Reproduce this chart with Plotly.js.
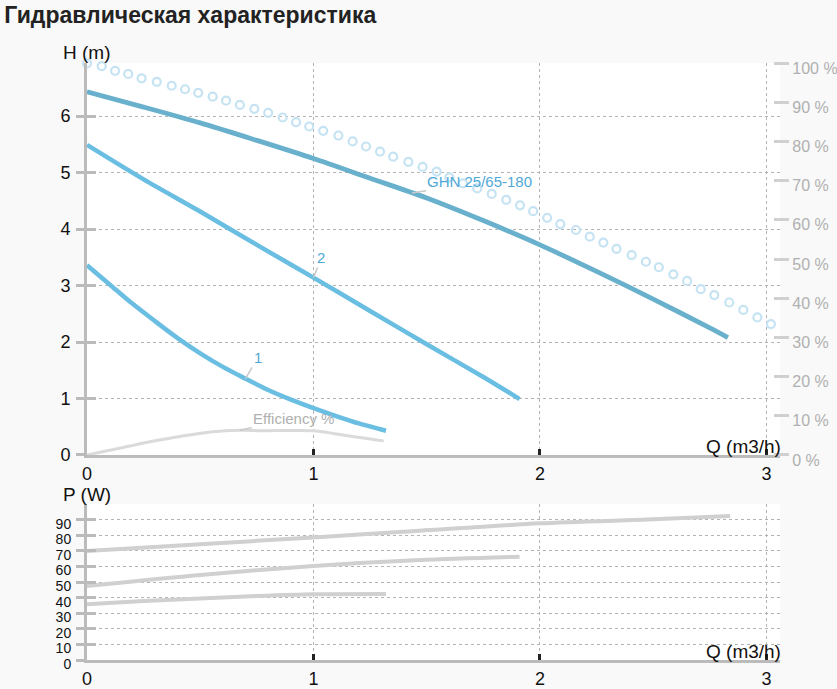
<!DOCTYPE html>
<html>
<head>
<meta charset="utf-8">
<script src="https://cdn.plot.ly/plotly-3.0.1.min.js"></script>
<style>
  html, body { margin: 0; padding: 0; background: #f9f9f9; }
  #chart { width: 837px; height: 689px; }
</style>
</head>
<body>
<div id="chart"></div>
<script>
"use strict";

// pump curve GHN 25/65-180 (max speed), H in m
let qMax = [0, 0.25, 0.5, 0.75, 1.0, 1.25, 1.5, 1.75, 2.0, 2.25, 2.5, 2.75, 2.83];
let hMax = [6.43, 6.16, 5.88, 5.57, 5.25, 4.90, 4.55, 4.15, 3.72, 3.25, 2.76, 2.25, 2.08];

// speed 2
let q2 = [0, 0.25, 0.5, 0.75, 1.0, 1.25, 1.5, 1.75, 1.91];
let h2 = [5.49, 4.88, 4.31, 3.72, 3.14, 2.55, 1.96, 1.38, 0.99];

// speed 1
let q1 = [0, 0.1, 0.2, 0.3, 0.4, 0.5, 0.6, 0.7, 0.8, 0.9, 1.0, 1.1, 1.2, 1.32];
let h1 = [3.36, 3.02, 2.68, 2.37, 2.07, 1.80, 1.56, 1.35, 1.15, 0.98, 0.83, 0.69, 0.56, 0.43];

// efficiency, %
let qEff = [0, 0.19, 0.32, 0.556, 0.675, 0.78, 1.0, 1.088, 1.15, 1.31];
let eff = [0, 2.3, 3.8, 5.9, 6.3, 6.2, 6.2, 5.5, 4.9, 3.6];

// circle curve on the % axis
let qDots = [0, 0.065, 0.124, 0.182, 0.241, 0.308, 0.374, 0.433, 0.491, 0.555,
    0.614, 0.675, 0.739, 0.8, 0.864, 0.923, 0.981, 1.043, 1.11, 1.173,
    1.232, 1.294, 1.352, 1.419, 1.482, 1.544, 1.6, 1.66, 1.723, 1.787,
    1.851, 1.912, 1.97, 2.032, 2.09, 2.159, 2.22, 2.28, 2.338, 2.405,
    2.468, 2.525, 2.589, 2.65, 2.71, 2.77, 2.836, 2.898, 2.96, 3.02];
let pctDots = [99.9, 99.2, 98.0, 97.2, 96.1, 95.2, 94.2, 93.3, 92.4, 91.4,
    90.4, 89.3, 88.3, 87.3, 86.1, 84.9, 83.8, 82.7, 81.5, 80.0,
    78.7, 77.4, 76.1, 74.8, 73.5, 72.3, 70.8, 69.3, 68.0, 66.6,
    65.1, 63.7, 62.2, 60.5, 58.9, 57.4, 55.7, 54.2, 52.6, 51.0,
    49.3, 47.9, 46.1, 44.4, 42.3, 40.8, 38.9, 37.0, 35.1, 33.4];

// power, W
let qPMax = [0, 0.5, 1.0, 1.47, 2.0, 2.5, 2.84];
let pMax = [69.9, 74.2, 78.6, 82.9, 87.6, 90.2, 92.3];
let qP2 = [0, 0.5, 1.0, 1.47, 1.91];
let p2 = [47.4, 54.5, 60.3, 64.1, 66.2];
let qP1 = [0, 0.25, 0.5, 0.75, 1.0, 1.32];
let p1 = [35.7, 37.8, 39.5, 41.0, 42.1, 42.3];

let hTicks = [0, 1, 2, 3, 4, 5, 6];
let pctTicks = [0, 10, 20, 30, 40, 50, 60, 70, 80, 90, 100];
let pTicks = [0, 10, 20, 30, 40, 50, 60, 70, 80, 90];
let qTicks = [0, 1, 2, 3];

const FONT = "Liberation Sans, Arial, sans-serif";
const GRID = "#b4b4b4";
const AXIS = "#bbbbbb";

function line(x, y, color, width, xa, ya, shape) {
    return {
        x: x, y: y, xaxis: xa, yaxis: ya,
        type: "scatter", mode: "lines",
        line: {color: color, width: width, shape: shape || "linear", smoothing: 0.8},
        hoverinfo: "skip", showlegend: false
    };
}

let data = [
    {
        x: qDots, y: pctDots, xaxis: "x", yaxis: "y2",
        type: "scatter", mode: "markers", cliponaxis: false,
        marker: {symbol: "circle-open", size: 8, color: "#c6e3f3", line: {width: 2.2, color: "#c6e3f3"}},
        hoverinfo: "skip", showlegend: false
    },
    line(qEff, eff, "#dadada", 3, "x", "y2", "spline"),
    line(q1, h1, "#6abee2", 4.5, "x", "y", "spline"),
    line(q2, h2, "#6abee2", 4.5, "x", "y", "spline"),
    line(qMax, hMax, "#68b0cc", 4.8, "x", "y", "spline"),
    line(qP1, p1, "#d0d0d0", 4, "x2", "y3", "spline"),
    line(qP2, p2, "#d0d0d0", 4, "x2", "y3", "spline"),
    line(qPMax, pMax, "#d0d0d0", 4, "x2", "y3", "spline"),
    // carriers for the inner half of the crossing ticks
    {x: [], y: [], xaxis: "x", yaxis: "y4", type: "scatter", showlegend: false},
    {x: [], y: [], xaxis: "x2", yaxis: "y5", type: "scatter", showlegend: false}
];

function qAxis(anchor) {
    return {
        anchor: anchor, range: [0, 3.06], domain: [0, 1],
        tickvals: qTicks, ticks: "inside", ticklen: 6, tickwidth: 3, tickcolor: "#222",
        showline: true, linecolor: AXIS, linewidth: 3,
        showgrid: true, gridcolor: GRID, griddash: "dot", gridwidth: 1,
        zeroline: false,
        tickfont: {family: FONT, size: 18, color: "#111"}
    };
}

let leftTicks = {
    ticks: "outside", ticklen: 8, tickwidth: 3, tickcolor: AXIS,
    showline: true, linecolor: AXIS, linewidth: 3,
    showgrid: true, gridcolor: GRID, griddash: "dot", gridwidth: 1,
    zeroline: false
};

let layout = {
    width: 837, height: 689,
    paper_bgcolor: "#f9f9f9", plot_bgcolor: "#ffffff",
    margin: {l: 87, r: 57, t: 63, b: 29},
    font: {family: FONT},
    title: {
        text: "<b>Гидравлическая характеристика</b>",
        font: {family: FONT, size: 23, color: "#222"},
        x: 0.005, xanchor: "left", y: 0.978, yanchor: "middle"
    },
    xaxis: qAxis("y"),
    xaxis2: qAxis("y3"),
    yaxis: Object.assign({}, leftTicks, {
        domain: [0.3434, 1], anchor: "x", range: [0, 6.94],
        tickvals: hTicks, ticklabelstandoff: 2,
        tickfont: {family: FONT, size: 18, color: "#111"}
    }),
    yaxis2: {
        overlaying: "y", side: "right", anchor: "free", position: 0.99,
        range: [0, 100], tickvals: pctTicks,
        ticktext: pctTicks.map(function (v) { return v + " %"; }),
        ticks: "outside", ticklen: 15, tickwidth: 3, tickcolor: "#d0d0d0",
        showline: false, showgrid: false, zeroline: false,
        ticklabelshift: 5, ticklabelstandoff: 0,
        tickfont: {family: FONT, size: 16, color: "#b0b0b0"}
    },
    yaxis3: Object.assign({}, leftTicks, {
        domain: [0, 0.2613], anchor: "x2", range: [0, 100],
        tickvals: pTicks, ticklabelshift: 4, ticklabelstandoff: 2,
        tickfont: {family: FONT, size: 14, color: "#111"}
    }),
    yaxis4: {
        overlaying: "y", anchor: "x", side: "left", range: [0, 6.94],
        tickvals: hTicks, ticks: "inside", ticklen: 9, tickwidth: 3, tickcolor: AXIS,
        showticklabels: false, showgrid: false, showline: false, zeroline: false
    },
    yaxis5: {
        overlaying: "y3", anchor: "x2", side: "left", range: [0, 100],
        tickvals: pTicks, ticks: "inside", ticklen: 9, tickwidth: 3, tickcolor: AXIS,
        showticklabels: false, showgrid: false, showline: false, zeroline: false
    },
    annotations: [
        {xref: "paper", yref: "paper", x: -0.037, y: 1.018, xanchor: "left", yanchor: "middle",
            text: "H (m)", showarrow: false, font: {family: FONT, size: 19, color: "#111"}},
        {xref: "paper", yref: "paper", x: 1.004, y: 0.357, xanchor: "right", yanchor: "middle",
            text: "Q (m3/h)", showarrow: false, font: {family: FONT, size: 19, color: "#111"}},
        {xref: "paper", yref: "paper", x: -0.037, y: 0.278, xanchor: "left", yanchor: "middle",
            text: "P (W)", showarrow: false, font: {family: FONT, size: 19, color: "#111"}},
        {xref: "paper", yref: "paper", x: 1.004, y: 0.015, xanchor: "right", yanchor: "middle",
            text: "Q (m3/h)", showarrow: false, font: {family: FONT, size: 19, color: "#111"}},
        {xref: "x", yref: "y", x: 1.435, y: 4.64, ax: 68, ay: -11,
            text: "GHN 25/65-180", showarrow: true, arrowhead: 0, arrowwidth: 1.5, arrowcolor: "#c8c8c8",
            font: {family: FONT, size: 15, color: "#4fa8d8"}},
        {xref: "x", yref: "y", x: q2[4], y: h2[4], ax: 8, ay: -20,
            text: "2", showarrow: true, arrowhead: 0, arrowwidth: 1.5, arrowcolor: "#c8c8c8",
            font: {family: FONT, size: 15, color: "#4fa8d8"}},
        {xref: "x", yref: "y", x: q1[7], y: h1[7], ax: 12, ay: -21,
            text: "1", showarrow: true, arrowhead: 0, arrowwidth: 1.5, arrowcolor: "#c8c8c8",
            font: {family: FONT, size: 15, color: "#4fa8d8"}},
        {xref: "x", yref: "y2", x: qEff[4], y: eff[4], ax: 54, ay: -12,
            text: "Efficiency %", showarrow: true, arrowhead: 0, arrowwidth: 1.5, arrowcolor: "#c8c8c8",
            font: {family: FONT, size: 15, color: "#b0b0b0"}}
    ]
};

Plotly.newPlot("chart", data, layout, {staticPlot: true, displayModeBar: false});
</script>
</body>
</html>
